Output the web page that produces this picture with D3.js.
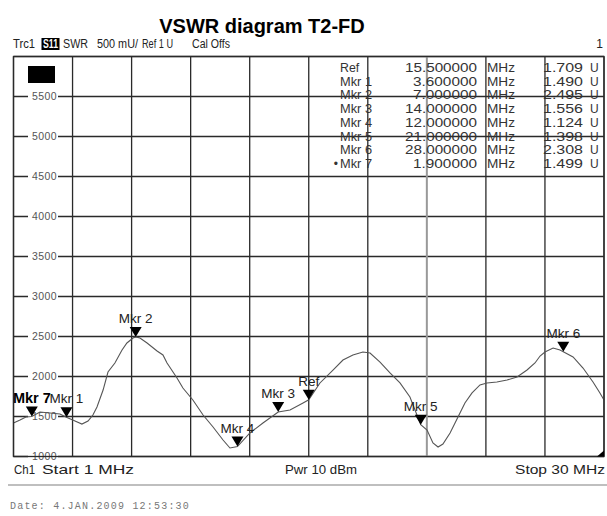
<!DOCTYPE html>
<html><head><meta charset="utf-8">
<script src="https://cdn.jsdelivr.net/npm/d3@7"></script>
<style>body{margin:0;background:#fff}svg{display:block}</style>
</head><body>
<script>
// Measured S11 trace: frequency (MHz) and SWR (mU)
const traceFreqMHz = [1.00, 1.32, 1.61, 1.90, 2.30, 2.79, 3.28, 3.60, 4.02, 4.36, 4.66, 4.90, 5.10, 5.40, 5.64, 5.98, 6.33, 6.57, 6.87, 7.00,
  7.21, 7.56, 8.05, 8.34, 8.54, 9.03, 9.32, 9.81, 10.31, 10.80, 11.29, 11.63, 11.88, 12.00, 12.61, 13.25, 14.00, 14.58, 15.22, 15.50,
  16.05, 16.69, 17.18, 17.67, 18.16, 18.51, 19.00, 19.49, 19.98, 20.47, 21.00, 21.31, 21.60, 21.85, 22.09, 22.44, 22.83, 23.17, 23.52, 23.91,
  24.25, 24.74, 25.24, 25.73, 26.22, 26.61, 26.86, 27.10, 27.50, 27.84, 28.00, 28.48, 28.97, 29.46, 29.80, 30.00];
const traceSwrMilliU = [1419, 1456, 1494, 1499, 1556, 1544, 1531, 1490, 1444, 1406, 1444, 1519, 1619, 1831, 2056, 2169, 2331, 2419, 2481, 2495,
  2481, 2419, 2319, 2269, 2169, 1981, 1856, 1706, 1519, 1369, 1206, 1106, 1119, 1124, 1294, 1419, 1556, 1581, 1669, 1709,
  1919, 2081, 2206, 2269, 2306, 2294, 2181, 2044, 1919, 1744, 1398, 1331, 1169, 1119, 1156, 1294, 1494, 1669, 1794, 1894,
  1919, 1931, 1956, 1994, 2081, 2169, 2256, 2306, 2356, 2331, 2308, 2244, 2106, 1931, 1794, 1706];

// Marker list
const markerNames = ["Ref", "Mkr 1", "Mkr 2", "Mkr 3", "Mkr 4", "Mkr 5", "Mkr 6", "Mkr 7"];
const markerFreqMHz = [15.5, 3.6, 7, 14, 12, 21, 28, 1.9];
const markerSwrU = [1.709, 1.490, 2.495, 1.556, 1.124, 1.398, 2.308, 1.499];
const activeMarker = "Mkr 7";

// Axis settings
const yTickValues = [1000, 1500, 2000, 2500, 3000, 3500, 4000, 4500, 5000, 5500];
const startMHz = 1, stopMHz = 30;
const headerItems = ["Trc1", "S11", "SWR", "500 mU/", "Ref 1 U", "Cal Offs"];

const W = 607, H = 516;
const plotL = 13.5, plotR = 604, plotT = 56.5, plotB = 456.5;

const svg = d3.select("body").append("svg").attr("width", W).attr("height", H)
  .style("font-family", "'Liberation Sans', Arial, sans-serif");
svg.append("rect").attr("width", W).attr("height", H).attr("fill", "#fff");

const x = d3.scaleLinear().domain([startMHz, stopMHz]).range([plotL, plotR]);
const y = d3.scaleLinear().domain([1000, 6000]).range([plotB, plotT]);

// Fixed-width text helper (the analyser font is wider than Liberation Sans)
function fitText(g, tx, ty, str, len, anchor) {
  return g.append("text").attr("x", tx).attr("y", ty).attr("text-anchor", anchor || "start")
    .attr("textLength", len).attr("lengthAdjust", "spacingAndGlyphs").text(str);
}

// Title
svg.append("text").attr("x", 262).attr("y", 33).attr("text-anchor", "middle")
  .attr("font-size", 20).attr("font-weight", "bold").attr("fill", "#000")
  .text("VSWR diagram T2-FD");

// Header line
const hdrX = [13, 43, 63, 97, 142, 192];
const hdrLen = [22, 15, 25, 41, 31, 38];
const hdr = svg.append("g").attr("font-size", 12).attr("fill", "#222");
headerItems.forEach((t, i) => {
  if (t === "S11") {
    hdr.append("rect").attr("x", hdrX[i] - 1.5).attr("y", 38).attr("width", hdrLen[i] + 3).attr("height", 12).attr("fill", "#000");
    fitText(hdr, hdrX[i], 48, t, hdrLen[i]).attr("fill", "#fff").attr("font-weight", "bold");
  } else {
    fitText(hdr, hdrX[i], 48, t, hdrLen[i]);
  }
});
hdr.append("text").attr("x", 603).attr("y", 48).attr("text-anchor", "end").text("1");

// Grid
const grid = svg.append("g").attr("stroke", "#2a2a2a").attr("stroke-width", 1.3).attr("fill", "none");
const xGrid = d3.range(11).map(i => startMHz + i * (stopMHz - startMHz) / 10);
const yGrid = d3.range(11).map(i => 1000 + i * 500);
grid.selectAll("line.h").data(yGrid).join("line").attr("class", "h")
  .attr("x1", plotL).attr("x2", plotR).attr("y1", d => y(d)).attr("y2", d => y(d));
grid.selectAll("line.v").data(xGrid).join("line").attr("class", "v")
  .attr("x1", d => x(d)).attr("x2", d => x(d)).attr("y1", plotT).attr("y2", plotB)
  .attr("stroke", (d, i) => i === 7 ? "#999" : "#2a2a2a")
  .attr("stroke-width", (d, i) => i === 7 ? 2 : 1.3);

// Y tick labels (mU)
const yAxis = svg.append("g");
yAxis.selectAll("rect").data(yTickValues).join("rect")
  .attr("x", 28).attr("y", d => y(d) - 5).attr("width", 30).attr("height", 10).attr("fill", "#fff");
yAxis.selectAll("text").data(yTickValues).join("text")
  .attr("x", 57).attr("y", d => y(d) + 3.8).attr("text-anchor", "end")
  .attr("font-size", 10.5).attr("letter-spacing", 0.4).attr("fill", "#555").text(d => d);

// Scale indicator block
svg.append("rect").attr("x", 28).attr("y", 66).attr("width", 27).attr("height", 17).attr("fill", "#000");

// Marker table
const table = svg.append("g").attr("font-size", 12).attr("fill", "#333");
markerNames.forEach((name, i) => {
  const by = 72 + i * 13.7;
  if (name === activeMarker) {
    table.append("text").attr("x", 338).attr("y", by).attr("text-anchor", "end").text("\u2022");
  }
  fitText(table, 340, by, name, name.length * 6.4);
  const fs = markerFreqMHz[i].toFixed(6);
  fitText(table, 477, by, fs, fs.length * 8, "end");
  fitText(table, 487, by, "MHz", 28);
  const vs = markerSwrU[i].toFixed(3);
  fitText(table, 583, by, vs, 40, "end");
  table.append("text").attr("x", 590).attr("y", by).text("U");
});

// Trace
const trace = traceFreqMHz.map((f, i) => [f, traceSwrMilliU[i]]);
svg.append("path").datum(trace)
  .attr("d", d3.line().x(d => x(d[0])).y(d => y(d[1])))
  .attr("fill", "none").attr("stroke", "#555").attr("stroke-width", 1.1);

// Markers on the trace
const mk = svg.append("g");
const order = markerNames.map((n, i) => i)
  .sort((a, b) => (markerNames[a] === activeMarker) - (markerNames[b] === activeMarker));
order.forEach(i => {
  const px = x(markerFreqMHz[i]), py = y(markerSwrU[i] * 1000);
  mk.append("path").attr("d", `M${px - 6},${py - 10}L${px + 6},${py - 10}L${px},${py}Z`).attr("fill", "#000");
  const active = markerNames[i] === activeMarker;
  mk.append("text").attr("x", px).attr("y", py - 14).attr("text-anchor", "middle")
    .attr("font-size", active ? 14.5 : 13.5).attr("font-weight", active ? "bold" : "normal")
    .attr("fill", active ? "#000" : "#222").text(markerNames[i]);
});

// Frame
svg.append("rect").attr("x", plotL).attr("y", plotT).attr("width", plotR - plotL).attr("height", plotB - plotT)
  .attr("fill", "none").attr("stroke", "#2a2a2a").attr("stroke-width", 1.3);

// Corner indicator
svg.append("path").attr("d", `M${plotR - 7},${plotB}L${plotR},${plotB - 6}L${plotR},${plotB}Z`).attr("fill", "#000");

// Footer
const foot = svg.append("g").attr("font-size", 13).attr("fill", "#222");
fitText(foot, 14, 474, "Ch1", 21);
fitText(foot, 42, 474, `Start ${startMHz} MHz`, 92);
fitText(foot, 285, 474, `Pwr 10 dBm`, 72);
fitText(foot, 605, 474, `Stop ${stopMHz} MHz`, 90, "end");
svg.append("line").attr("x1", 8).attr("x2", 607).attr("y1", 485).attr("y2", 485).attr("stroke", "#aaa").attr("stroke-width", 1.5);
svg.append("text").attr("x", 10).attr("y", 509).attr("font-family", "'Liberation Mono', 'DejaVu Sans Mono', monospace")
  .attr("font-size", 10).attr("letter-spacing", 1.2).attr("fill", "#777").text("Date: 4.JAN.2009  12:53:30");
</script>
</body></html>
